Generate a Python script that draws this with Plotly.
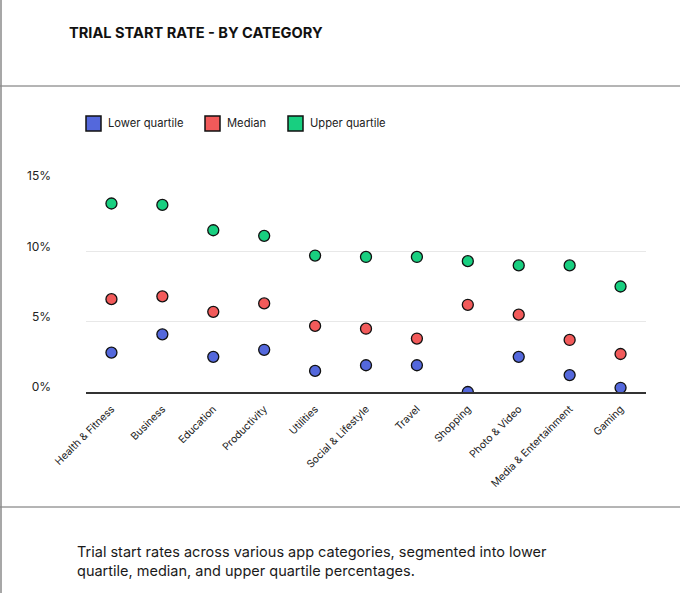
import plotly.graph_objects as go

categories = ["Health & Fitness", "Business", "Education", "Productivity", "Utilities",
              "Social & Lifestyle", "Travel", "Shopping", "Photo & Video",
              "Media & Entertainment", "Gaming"]
lower_quartile = [2.8, 4.1, 2.5, 3.0, 1.5, 1.9, 1.9, 0.0, 2.5, 1.2, 0.3]
median = [6.6, 6.8, 5.7, 6.3, 4.7, 4.5, 3.8, 6.2, 5.5, 3.7, 2.7]
upper_quartile = [13.4, 13.3, 11.5, 11.1, 9.7, 9.6, 9.6, 9.3, 9.0, 9.0, 7.5]
y_ticks = [0, 5, 10, 15]
y_tick_labels = ["0%", "5%", "10%", "15%"]

series_names = ["Lower quartile", "Median", "Upper quartile"]
series_colors = ["#5468dc", "#f25a5a", "#18cf80"]
series_values = [lower_quartile, median, upper_quartile]

W, H = 680, 593
L, R, T, B = 86, 34, 181, 201
PW, PH = W - L - R, H - T - B
FONT = "Inter"


def px_x(px):
    return (px - L) / PW


def px_y(py):
    return (H - B - py) / PH


fig = go.Figure()
for name, color, vals in zip(series_names, series_colors, series_values):
    fig.add_trace(go.Scatter(
        x=categories, y=vals, mode="markers", name=name,
        marker=dict(size=11, color=color, line=dict(color="#111111", width=1.3)),
        showlegend=False, cliponaxis=True,
    ))

shapes = []
annotations = []
# frame lines
shapes.append(dict(type="line", xref="paper", yref="paper", x0=px_x(0), x1=px_x(W),
                   y0=px_y(86), y1=px_y(86), line=dict(color="#6b6b6b", width=1)))
shapes.append(dict(type="line", xref="paper", yref="paper", x0=px_x(0), x1=px_x(W),
                   y0=px_y(507), y1=px_y(507), line=dict(color="#6b6b6b", width=1)))
shapes.append(dict(type="line", xref="paper", yref="paper", x0=px_x(1), x1=px_x(1),
                   y0=px_y(0), y1=px_y(H), line=dict(color="#8a8a8a", width=1.5)))

# legend (manual)
legend_x = [86, 205, 288]
for lx, name, color in zip(legend_x, series_names, series_colors):
    shapes.append(dict(type="rect", xref="paper", yref="paper",
                       x0=px_x(lx), x1=px_x(lx + 15), y0=px_y(116), y1=px_y(131),
                       fillcolor=color, line=dict(color="#111111", width=1.5)))
    annotations.append(dict(text=name, xref="paper", yref="paper", x=px_x(lx + 20),
                            y=px_y(123.5), xanchor="left", yanchor="middle", showarrow=False,
                            font=dict(family=FONT, size=11.2, color="#222222")))

annotations.append(dict(text="<b>TRIAL START RATE - BY CATEGORY</b>", xref="paper", yref="paper",
                        x=px_x(67), y=px_y(33), xanchor="left", yanchor="middle", showarrow=False,
                        font=dict(family=FONT, size=14.6, color="#111111")))
annotations.append(dict(text="Trial start rates across various app categories, segmented into lower<br>"
                             "quartile, median, and upper quartile percentages.",
                        xref="paper", yref="paper", x=px_x(75), y=px_y(561.5), xanchor="left",
                        yanchor="middle", align="left", showarrow=False,
                        font=dict(family=FONT, size=14.5, color="#1a1a1a")))

fig.update_layout(
    width=W, height=H, margin=dict(l=L, r=R, t=T, b=B),
    paper_bgcolor="white", plot_bgcolor="white",
    font=dict(family=FONT, color="#222222"),
    shapes=shapes, annotations=annotations, showlegend=False,
    xaxis=dict(type="category", categoryorder="array", categoryarray=categories,
               range=[-0.5, len(categories) - 0.5], showgrid=False, zeroline=False,
               showline=True, linecolor="#333333", linewidth=2, ticks="",
               tickangle=-45, ticklabelstandoff=5,
               tickfont=dict(family=FONT, size=10.3, color="#222222")),
    yaxis=dict(range=[0, 15], tickvals=y_ticks, ticktext=y_tick_labels,
               showgrid=True, gridcolor="#e8e8e8", gridwidth=1, zeroline=False,
               showline=False, ticks="", ticklabelstandoff=34, ticklabelshift=-5,
               tickfont=dict(family=FONT, size=12, color="#222222")),
)

fig.write_html("out.html", config={"displayModeBar": False},
               post_script="document.body.style.margin='0';")
